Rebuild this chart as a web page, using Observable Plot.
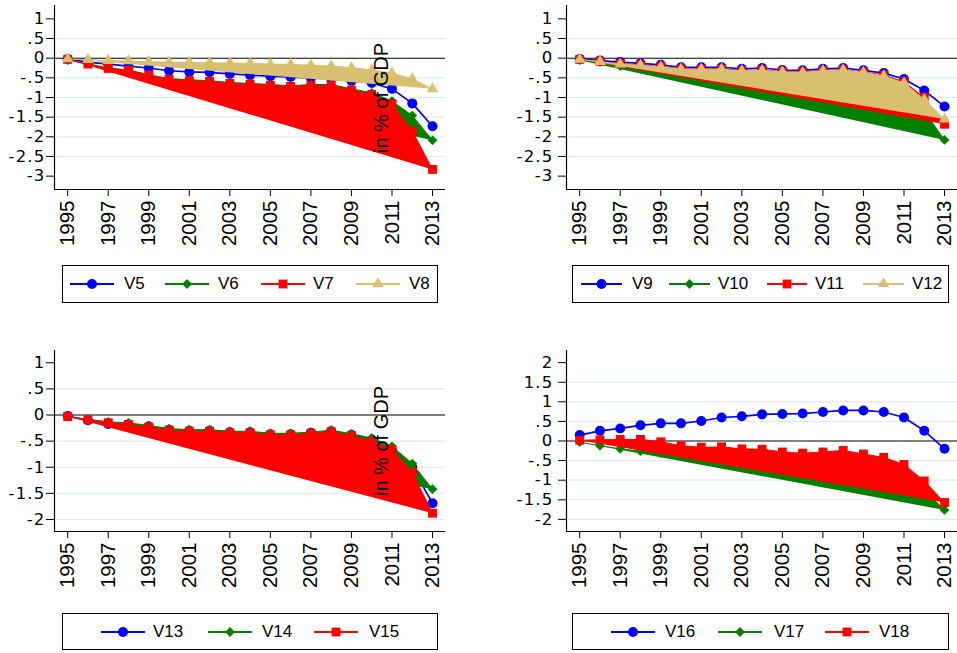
<!DOCTYPE html>
<html>
<head>
<meta charset="utf-8">
<script src="https://cdn.jsdelivr.net/npm/d3@7"></script>
<script src="https://cdn.jsdelivr.net/npm/@observablehq/plot@0.6"></script>
<style>
  html, body { margin: 0; padding: 0; background: #fff; }
  #wrap { position: relative; width: 957px; height: 653px; overflow: hidden; background: #fff;
          font-family: "Liberation Sans", Arial, sans-serif; color: #000; }
  .panel { position: absolute; }
  .legend { position: absolute; border: 1px solid #000; box-sizing: border-box; background: #fff; }
  .lswatch { position: absolute; overflow: visible; }
  .ltext { position: absolute; font-size: 17px; line-height: 20px; white-space: nowrap; }
  .note { position: absolute; font-size: 20px; white-space: nowrap; line-height: 20px;
          transform: translate(-50%, -50%) rotate(-90deg); }
  g[aria-label="y-axis tick label"] text { letter-spacing: 1.2px; }
</style>
</head>
<body>
<div id="wrap"></div>
<script>
// ---------------- data ----------------
const years = [1995,1996,1997,1998,1999,2000,2001,2002,2003,2004,2005,2006,2007,2008,2009,2010,2011,2012,2013];
const xTickYears = [1995,1997,1999,2001,2003,2005,2007,2009,2011,2013];

const yTicksTop = [1,0.5,0,-0.5,-1,-1.5,-2,-2.5,-3];
const yTicksBL  = [1,0.5,0,-0.5,-1,-1.5,-2];
const yTicksBR  = [2,1.5,1,0.5,0,-0.5,-1,-1.5,-2];

// panel 1
const V5  = [-0.02,-0.10,-0.15,-0.20,-0.25,-0.32,-0.35,-0.36,-0.40,-0.43,-0.46,-0.48,-0.50,-0.53,-0.58,-0.63,-0.78,-1.15,-1.73];
const V6  = [-0.05,-0.14,-0.25,-0.30,-0.42,-0.52,-0.55,-0.57,-0.62,-0.64,-0.67,-0.70,-0.67,-0.67,-0.78,-0.88,-1.09,-1.46,-2.09];
const V7  = [-0.03,-0.15,-0.26,-0.31,-0.43,-0.54,-0.57,-0.59,-0.64,-0.66,-0.69,-0.72,-0.69,-0.69,-0.81,-0.92,-1.16,-1.85,-2.83];
const V8  = [-0.02,-0.04,-0.06,-0.07,-0.09,-0.10,-0.11,-0.12,-0.12,-0.13,-0.15,-0.16,-0.18,-0.20,-0.24,-0.30,-0.38,-0.53,-0.78];
// panel 2
const V9  = [-0.02,-0.06,-0.10,-0.13,-0.17,-0.23,-0.23,-0.23,-0.27,-0.25,-0.30,-0.31,-0.27,-0.25,-0.31,-0.38,-0.53,-0.82,-1.23];
const V10 = [-0.05,-0.10,-0.20,-0.22,-0.26,-0.31,-0.31,-0.32,-0.35,-0.34,-0.38,-0.39,-0.36,-0.34,-0.41,-0.50,-0.70,-1.35,-2.08];
const V11 = [-0.03,-0.08,-0.14,-0.17,-0.21,-0.27,-0.27,-0.27,-0.31,-0.30,-0.34,-0.35,-0.31,-0.29,-0.35,-0.43,-0.60,-1.00,-1.68];
const V12 = [-0.03,-0.09,-0.15,-0.18,-0.22,-0.28,-0.28,-0.28,-0.32,-0.31,-0.35,-0.36,-0.32,-0.30,-0.36,-0.45,-0.63,-1.05,-1.55];
// panel 3
const V13 = [-0.02,-0.10,-0.17,-0.18,-0.22,-0.28,-0.30,-0.30,-0.33,-0.33,-0.37,-0.37,-0.34,-0.31,-0.38,-0.48,-0.68,-1.00,-1.69];
const V14 = [-0.03,-0.08,-0.13,-0.15,-0.20,-0.26,-0.28,-0.28,-0.31,-0.31,-0.35,-0.35,-0.33,-0.29,-0.36,-0.44,-0.60,-0.93,-1.42];
const V15 = [-0.03,-0.09,-0.15,-0.18,-0.23,-0.29,-0.31,-0.31,-0.34,-0.34,-0.38,-0.38,-0.35,-0.32,-0.40,-0.50,-0.66,-1.10,-1.88];
// panel 4
const V16 = [0.15,0.26,0.32,0.40,0.45,0.45,0.51,0.60,0.63,0.68,0.69,0.70,0.74,0.78,0.78,0.74,0.60,0.26,-0.20];
const V17 = [-0.03,-0.12,-0.20,-0.26,-0.30,-0.34,-0.38,-0.40,-0.44,-0.48,-0.53,-0.57,-0.57,-0.57,-0.65,-0.75,-0.93,-1.25,-1.76];
const V18 = [0.02,0.03,0.04,0.04,-0.02,-0.12,-0.16,-0.15,-0.20,-0.21,-0.28,-0.31,-0.28,-0.24,-0.33,-0.42,-0.60,-1.02,-1.57];

const noteText = "in % of GDP";

// ---------------- styles ----------------
const STY = {
  blue:  {color: "#0000ff", symbol: "circle",   r: 5.0, filled: false},
  green: {color: "#008000", symbol: "diamond2", r: 4.4, filled: true},
  red:   {color: "#ff0000", symbol: "square",   r: 5.0, filled: true},
  tan:   {color: "#d8c070", symbol: "triangle", r: 4.3, filled: true}
};
const xDomain = [1994.35, 2013.64];

const panels = [
  {left: 0,   top: 0,   width: 480, height: 250, mL: 54, mR: 35, mT: 5,  mB: 61, yDomain: [-3.34, 1.34],
   ticks: yTicksTop, grid: [0.5,-0.5,-1,-1.5,-2,-2.5], tickPad: 1,
   series: [{name:"V5",v:V5,s:"blue"},{name:"V6",v:V6,s:"green"},{name:"V7",v:V7,s:"red"},{name:"V8",v:V8,s:"tan"}]},
  {left: 480, top: 0,   width: 477, height: 250, mL: 86, mR: 0,  mT: 5,  mB: 61, yDomain: [-3.34, 1.34],
   ticks: yTicksTop, grid: [0.5,-0.5,-1,-1.5,-2,-2.5], tickPad: 5,
   series: [{name:"V9",v:V9,s:"blue"},{name:"V10",v:V10,s:"green"},{name:"V11",v:V11,s:"red"},{name:"V12",v:V12,s:"tan"}]},
  {left: 0,   top: 340, width: 480, height: 260, mL: 54, mR: 35, mT: 10, mB: 69, yDomain: [-2.23, 1.235],
   ticks: yTicksBL, grid: [0.5,-0.5,-1,-1.5,-2], tickPad: 1,
   series: [{name:"V13",v:V13,s:"blue"},{name:"V14",v:V14,s:"green"},{name:"V15",v:V15,s:"red"}]},
  {left: 480, top: 340, width: 477, height: 260, mL: 86, mR: 0,  mT: 10, mB: 69, yDomain: [-2.31, 2.31],
   ticks: yTicksBR, grid: [1.5,1,0.5,-0.5,-1,-1.5,-2], tickPad: 5,
   series: [{name:"V16",v:V16,s:"blue"},{name:"V17",v:V17,s:"green"},{name:"V18",v:V18,s:"red"}]}
];

const legends = [
  {box: {left: 62,  top: 265, width: 376, height: 38}, cy: 284,
   items: [{x0:70,x1:114,tx:124},{x0:165,x1:209,tx:218},{x0:261,x1:305,tx:313},{x0:356,x1:400,tx:409}]},
  {box: {left: 572, top: 265, width: 377, height: 38}, cy: 284,
   items: [{x0:581,x1:622,tx:632},{x0:669,x1:710,tx:718},{x0:767,x1:807,tx:815},{x0:863,x1:904,tx:912}]},
  {box: {left: 62,  top: 613, width: 376, height: 37}, cy: 631.5,
   items: [{x0:101,x1:145,tx:153},{x0:208,x1:252,tx:262},{x0:314,x1:358,tx:369}]},
  {box: {left: 572, top: 613, width: 377, height: 37}, cy: 631.5,
   items: [{x0:611,x1:655,tx:665},{x0:718,x1:762,tx:774},{x0:825,x1:869,tx:879}]}
];

const notes = [{cx: 381, cy: 98}, {cx: 381, cy: 441}];

// ---------------- helpers ----------------
const fmtY = d => String(d).replace(/^(-?)0\./, "$1.");

function makePlot(cfg) {
  const marks = [
    Plot.ruleY(cfg.grid, {stroke: "#dfe8ec", strokeWidth: 1.2}),
    Plot.ruleY([0], {stroke: "#000", strokeWidth: 1.1})
  ];
  cfg.series.forEach(se => {
    const st = STY[se.s];
    const data = years.map((yr, i) => ({year: yr, value: se.v[i]}));
    if (st.filled) {
      marks.push(Plot.line(data, {x: "year", y: "value", stroke: st.color, strokeWidth: 1, fill: st.color}));
    } else {
      marks.push(Plot.line(data, {x: "year", y: "value", stroke: st.color, strokeWidth: 1.7}));
    }
    marks.push(Plot.dot(data, {x: "year", y: "value", symbol: st.symbol, r: st.r, fill: st.color, stroke: "none"}));
  });
  marks.push(Plot.ruleX([xDomain[0]], {stroke: "#000", strokeWidth: 1.2}));
  marks.push(Plot.ruleY([cfg.yDomain[0]], {stroke: "#000", strokeWidth: 1.2}));
  marks.push(Plot.axisY({ticks: cfg.ticks, tickFormat: fmtY, tickSize: 8, tickPadding: cfg.tickPad, label: null,
                         fontSize: 16.5, fontFamily: "DejaVu Sans", stroke: "#000", fill: "#000"}));
  marks.push(Plot.axisX({ticks: xTickYears, tickFormat: d => String(d), tickRotate: -90, tickSize: 7, tickPadding: 4,
                         label: null, fontSize: 20.5, fontFamily: "Liberation Sans", stroke: "#000", fill: "#000"}));
  return Plot.plot({
    width: cfg.width, height: cfg.height,
    marginLeft: cfg.mL, marginRight: cfg.mR, marginTop: cfg.mT, marginBottom: cfg.mB,
    x: {domain: xDomain, axis: null},
    y: {domain: cfg.yDomain, axis: null},
    style: {background: "transparent", color: "#000", fontFamily: "Liberation Sans", overflow: "visible"},
    marks
  });
}

const wrap = d3.select("#wrap");

panels.forEach(cfg => {
  const el = makePlot(cfg);
  const holder = wrap.append("div").attr("class", "panel")
    .style("left", cfg.left + "px").style("top", cfg.top + "px");
  holder.node().appendChild(el);
});

// legends
const typeMap = {circle: d3.symbolCircle, diamond2: d3.symbolDiamond2, square: d3.symbolSquare, triangle: d3.symbolTriangle};
legends.forEach((lg, li) => {
  const p = panels[li];
  wrap.append("div").attr("class", "legend")
    .style("left", lg.box.left + "px").style("top", lg.box.top + "px")
    .style("width", lg.box.width + "px").style("height", lg.box.height + "px");
  p.series.forEach((se, k) => {
    const it = lg.items[k];
    const st = STY[se.s];
    const w = it.x1 - it.x0;
    const svg = wrap.append("svg").attr("class", "lswatch")
      .attr("width", w).attr("height", 14)
      .style("left", it.x0 + "px").style("top", (lg.cy - 7) + "px");
    svg.append("line").attr("x1", 0).attr("x2", w).attr("y1", 7).attr("y2", 7)
      .attr("stroke", st.color).attr("stroke-width", 2);
    svg.append("path")
      .attr("d", d3.symbol(typeMap[st.symbol], Math.PI * st.r * st.r)())
      .attr("transform", `translate(${w / 2},7)`)
      .attr("fill", st.color);
    wrap.append("div").attr("class", "ltext")
      .style("left", it.tx + "px").style("top", (lg.cy - 10) + "px")
      .text(se.name);
  });
});

// rotated notes
notes.forEach(n => {
  wrap.append("div").attr("class", "note")
    .style("left", n.cx + "px").style("top", n.cy + "px")
    .text(noteText);
});
</script>
</body>
</html>
